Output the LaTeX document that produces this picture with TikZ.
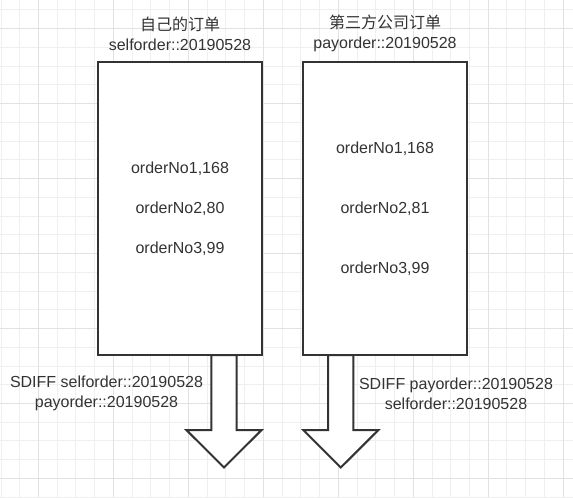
\documentclass[tikz,border=0pt]{standalone}
\usepackage{fontspec}
\setmainfont{Liberation Sans}
\newfontfamily\cjk{Noto Sans CJK SC}
\usepackage{xcolor}
\usepackage{tikz}
\usetikzlibrary{positioning,calc}

\definecolor{inkgray}{HTML}{333333}
\definecolor{gridminor}{HTML}{EFEFEF}
\definecolor{gridmajor}{HTML}{E2E2E2}

\tikzset{
    orderbox/.style={draw=inkgray, line width=1.5pt, fill=white, minimum width=122.5pt, minimum height=220pt},
    ordertext/.style={text=inkgray, font=\fontsize{12}{15}\selectfont, align=center, inner sep=0pt},
    downarrow/.style={draw=inkgray, line width=1.5pt, fill=white, line join=miter}
}

\begin{document}
\begin{tikzpicture}[x=0.75pt, y=-0.75pt]
    \useasboundingbox (0,0) rectangle (573,497);
    \fill [white] (0,0) rectangle (573,497);

    % Background grid
    \foreach \k in {0,...,30} {
        \draw [gridminor, line width=0.75pt] ({1+18.74*\k},0) -- ({1+18.74*\k},497);
    }
    \foreach \k in {0,...,26} {
        \draw [gridminor, line width=0.75pt] (0,{9.96+18.74*\k}) -- (573,{9.96+18.74*\k});
    }
    \foreach \k in {2,6,...,30} {
        \draw [gridmajor, line width=0.75pt] ({1+18.74*\k},0) -- ({1+18.74*\k},497);
    }
    \foreach \k in {1,5,...,25} {
        \draw [gridmajor, line width=0.75pt] (0,{9.96+18.74*\k}) -- (573,{9.96+18.74*\k});
    }

    % Block arrows under the boxes
    \foreach \ax in {224,340.8} {
        \draw [downarrow] (\ax-12.6,355) -- (\ax-12.6,430) -- (\ax-37.6,430) -- (\ax,467.5)
            -- (\ax+37.6,430) -- (\ax+12.6,430) -- (\ax+12.6,355) -- cycle;
    }

    % Order sets
    \node [orderbox] (selfbox) at (180,208.35) {};
    \node [orderbox] (paybox) at (385,208.35) {};

    \node [ordertext] (selftitle) at (180,33.5) {{\cjk 自己的订单}\\selforder::20190528};
    \node [ordertext] (paytitle) at (385,33.5) {{\cjk 第三方公司订单}\\payorder::20190528};

    \node [ordertext] (self1) at (180,168.3) {orderNo1,168};
    \node [ordertext] (self2) at (180,209) {orderNo2,80};
    \node [ordertext] (self3) at (180,248.3) {orderNo3,99};

    \node [ordertext] (pay1) at (385,148.3) {orderNo1,168};
    \node [ordertext] (pay2) at (385,209) {orderNo2,81};
    \node [ordertext] (pay3) at (385,268.3) {orderNo3,99};

    % Diff commands
    \node [ordertext] (selfdiff) at (106.5,393.3) {SDIFF selforder::20190528\\payorder::20190528};
    \node [ordertext] (paydiff) at (456,393.3) {SDIFF payorder::20190528\\selforder::20190528};
\end{tikzpicture}
\end{document}
